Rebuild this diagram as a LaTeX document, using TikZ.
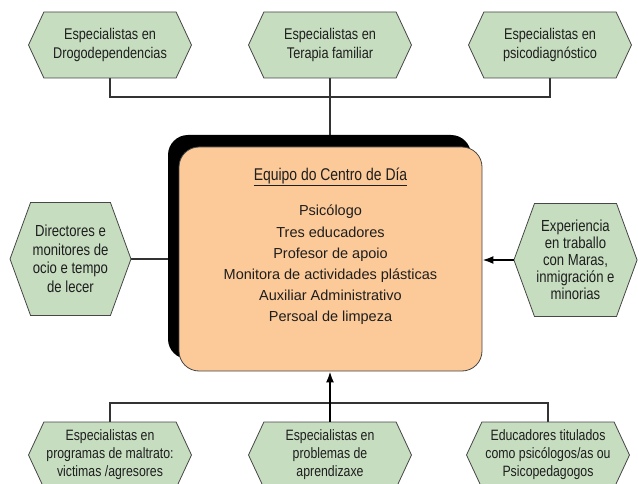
\documentclass[tikz,border=0pt]{standalone}
\usepackage{fontspec}
\setmainfont{Liberation Sans}[FakeStretch=0.82]
\newfontfamily\bodyfont{Liberation Sans}
\usepackage{tikz}
\usetikzlibrary{arrows.meta, positioning, shapes.symbols, shadows, backgrounds}
\definecolor{hexgreen}{RGB}{198,221,192}
\definecolor{boxorange}{RGB}{252,201,152}
\definecolor{edgegray}{RGB}{70,70,70}
\definecolor{textgray}{RGB}{30,30,30}

\begin{document}
\begin{tikzpicture}[
		x=1pt, y=-1pt,
		every node/.style={text=textgray},
		hexa/.style={draw=edgegray, fill=hexgreen, line width=0.8pt, signal, signal to=west and east,
			signal pointer angle=130, minimum width=163pt, minimum height=66pt, align=center,
			font=\fontsize{15.5}{19}\selectfont, inner sep=2pt},
		sidehexa/.style={hexa, signal pointer angle=140, minimum width=115pt, minimum height=113pt,
			font=\fontsize{16}{18.5}\selectfont},
		team/.style={draw=edgegray, fill=boxorange, line width=0.8pt, rectangle, rounded corners=20pt,
			minimum width=303pt, minimum height=224pt,
			drop shadow={shadow xshift=-11pt, shadow yshift=12pt, fill=black, opacity=1}},
		line/.style={draw=black!80, line width=1.4pt},
		arrow/.style={-{Latex[length=11pt, width=8pt]}, draw=black, line width=2pt}
		]
		\useasboundingbox (0,0) rectangle (638,484);

		% Nodes
		\node[team] (box) at (330.5,259) {};
		\node[anchor=north, font=\fontsize{17}{19}\selectfont] (title) at ([yshift=-18pt]box.north)
			{\underline{Equipo do Centro de Día}};
		\node[anchor=north, align=center, font=\bodyfont\fontsize{14.5}{21.2}\selectfont] (staff)
			at ([yshift=-12pt]title.south)
			{Psicólogo\\ Tres educadores\\ Profesor de apoio\\
			 Monitora de actividades plásticas\\ Auxiliar Administrativo\\ Persoal de limpeza};

		\node[hexa] (drogas) at (110,45) {Especialistas en\\Drogodependencias};
		\node[hexa] (terapia) at (330,45) {Especialistas en\\Terapia familiar};
		\node[hexa] (psico) at (550,45) {Especialistas en\\psicodiagnóstico};

		\node[sidehexa] (ocio) at (70.5,259) {Directores e\\monitores de\\ocio e tempo\\de lecer};
		\node[sidehexa, font=\fontsize{16}{17}\selectfont] (maras) at (575.5,260)
			{Experiencia\\en traballo\\con Maras,\\inmigración e\\minorias};

		\node[hexa, font=\fontsize{15}{18}\selectfont] (maltrato) at (110,455)
			{Especialistas en\\programas de maltrato:\\victimas /agresores};
		\node[hexa, font=\fontsize{15}{18}\selectfont] (aprendizaxe) at (330,455)
			{Especialistas en\\problemas de\\aprendizaxe};
		\node[hexa, font=\fontsize{15}{18}\selectfont] (titulados) at (548,455)
			{Educadores titulados\\como psicólogos/as ou\\Psicopedagogos};

		\coordinate (topbus) at (0,97);
		\coordinate (botbus) at (0,403);

		% Lines
		\begin{scope}[on background layer]
			\draw[line] (drogas.south) -- (drogas.south |- topbus) -| (psico.south);
			\draw[line] (terapia.south) -- (terapia.south |- box.north);
			\draw[line] (ocio.east) -- (ocio.east -| box.west);
			\draw[line] (maltrato.north) -- (maltrato.north |- botbus) -| (titulados.north);
		\end{scope}

		% Arrows
		\draw[arrow] (maras.west) -- (maras.west -| box.east);
		\draw[arrow] (aprendizaxe.north) -- (aprendizaxe.north |- box.south);

	\end{tikzpicture}
\end{document}
